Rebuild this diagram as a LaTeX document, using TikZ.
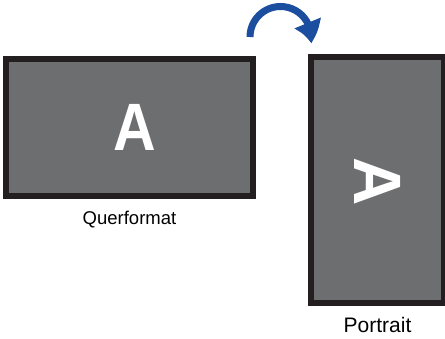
\documentclass[tikz,border=0pt]{standalone}
\usepackage{fontspec}
\setmainfont{Liberation Sans}
\usetikzlibrary{arrows.meta,bending}
\definecolor{screengray}{HTML}{6D6E70}
\definecolor{framedark}{HTML}{231F20}
\definecolor{turnblue}{HTML}{1C4EA0}

\begin{document}
\begin{tikzpicture}[x=1pt, y=1pt]
\useasboundingbox (0,0) rectangle (445,339);
\begin{scope}[every node/.style={rectangle, draw=framedark, fill=screengray, line width=6pt, text=white, inner sep=0pt, font=\fontsize{67}{70}\selectfont\bfseries},
              every label/.style={draw=none, fill=none, text=black}]
    \node[minimum width=247pt, minimum height=137pt, label={[label distance=9.5pt, font=\fontsize{18.5}{22}\selectfont]below:Querformat}] (quer) at (129.5,211.5) {\kern10pt\scalebox{0.88}[1]{A}};
    \node[minimum width=133pt, minimum height=246pt, label={[label distance=8pt, font=\fontsize{21}{25}\selectfont]below:Portrait}] (hoch) at (377.5,159) {\raisebox{-3pt}{\rotatebox{-90}{A}}};
\end{scope}
\coordinate (turnstart) at (250,302);
\draw[turnblue, line width=7pt, -{Triangle[length=21pt, width=27pt, bend]}] (turnstart) arc[start angle=180, end angle=-12, radius=30.5pt];
\end{tikzpicture}
\end{document}
